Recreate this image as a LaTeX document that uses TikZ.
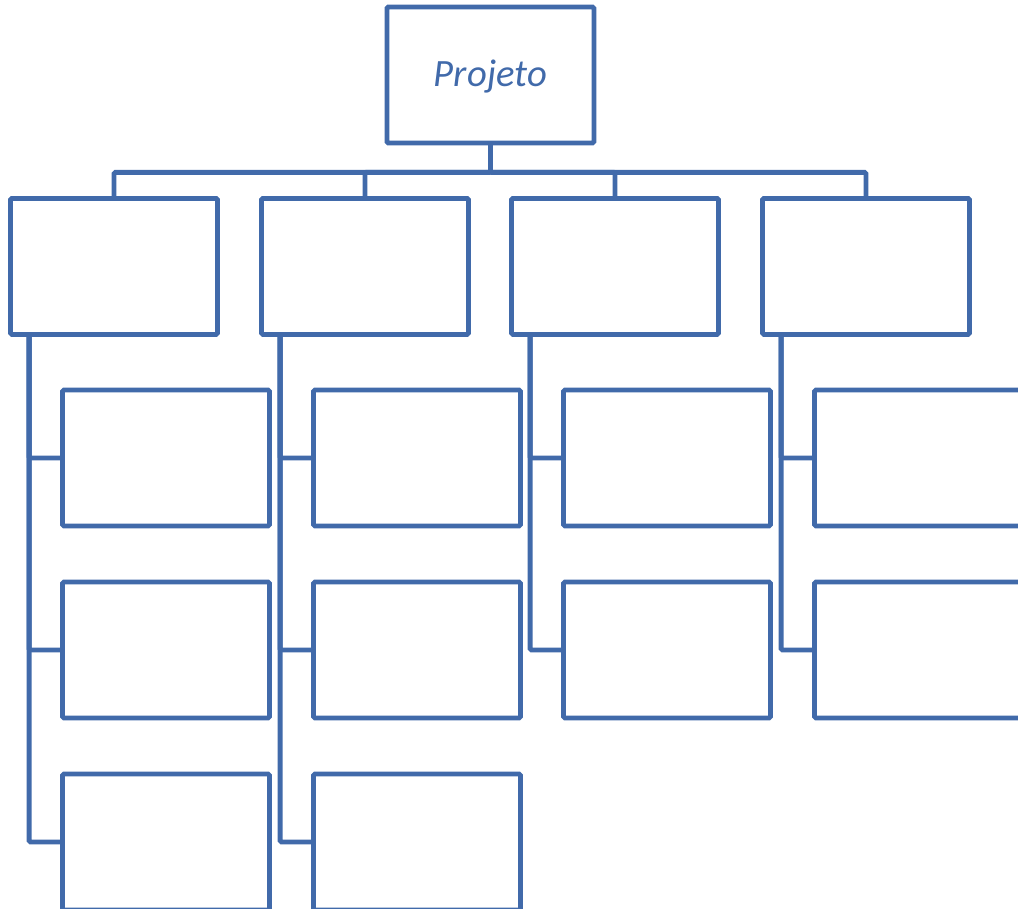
\documentclass[tikz,border=0pt]{standalone}
\usepackage{fontspec}
\newfontfamily\calibri{Carlito}
\definecolor{chartblue}{RGB}{65,106,170}
\tikzset{
  wbsbox/.style={draw=chartblue, line width=3.4pt, rounded corners=1pt, fill=white,
    minimum width=5.175cm, minimum height=3.4cm, inner sep=0pt},
  wbsline/.style={draw=chartblue, line width=3.4pt, rounded corners=1pt},
}
\begin{document}
\begin{tikzpicture}
  \useasboundingbox (0,0) rectangle (25.45,-22.725);
  \clip (0,0) rectangle (25.45,-22.725);
  % root
  \node[wbsbox, text=chartblue, font=\calibri\itshape\fontsize{27.5}{30}\selectfont,
    text depth=0.1cm] (proj) at (12.26,-1.875) {Projeto};
  % first level and their children
  \foreach \i/\x/\n in {1/2.85/3, 2/9.125/3, 3/15.375/2, 4/21.65/2} {
    \node[wbsbox] (c\i) at (\x,-6.66) {};
    \draw[wbsline] (proj.south) -- ++(0,-0.675) -| (c\i.north);
    \foreach \j/\y in {1/-11.45, 2/-16.25, 3/-21.05} {
      \ifnum\j>\n\else
        \node[wbsbox] (c\i r\j) at (\x+1.3,\y) {};
        \draw[wbsline] ([xshift=0.525cm]c\i.south west) |- (c\i r\j.west);
      \fi
    }
  }
\end{tikzpicture}
\end{document}
